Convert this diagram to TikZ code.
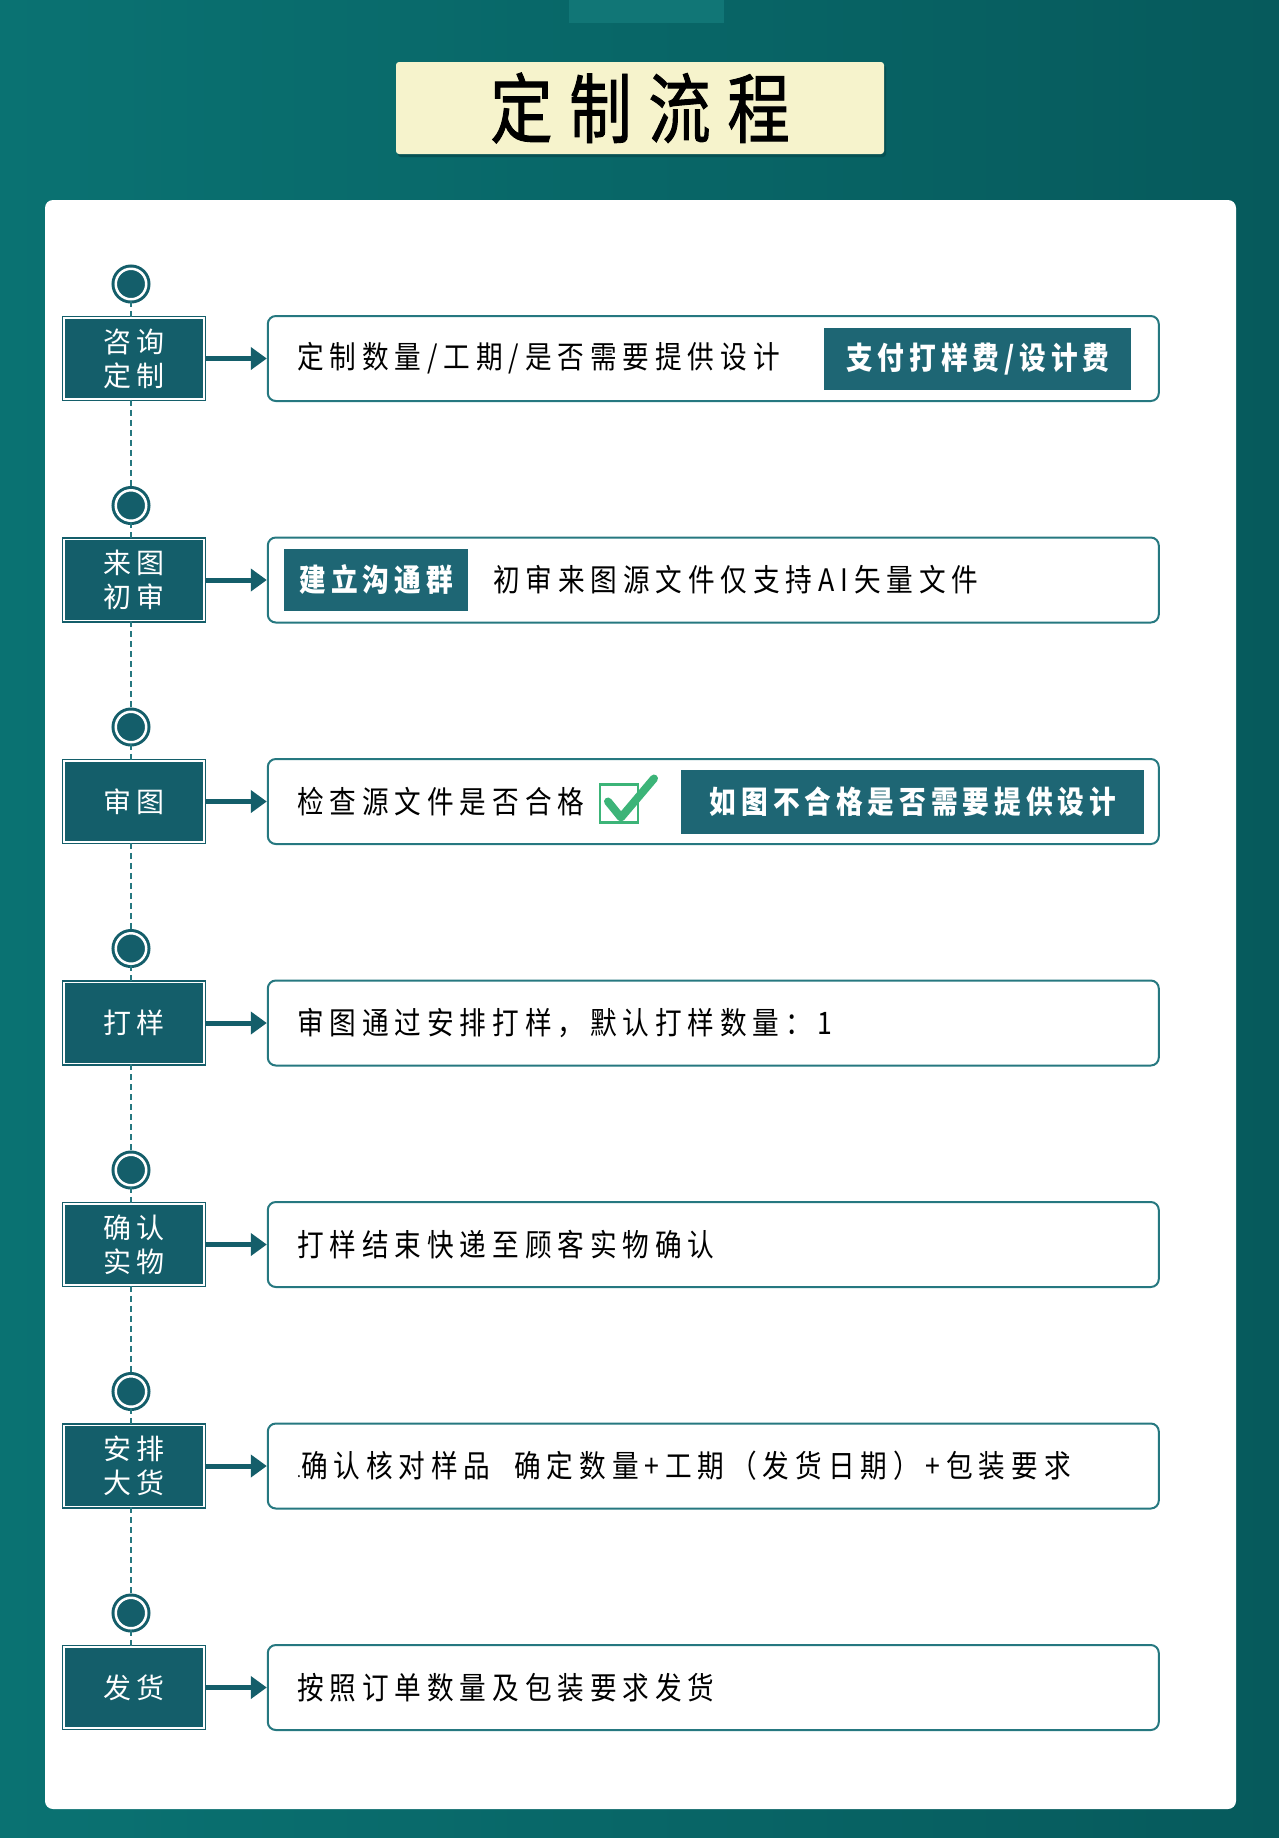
\documentclass[tikz,border=0pt]{standalone}
\usepackage{fontspec}
\setmainfont{Noto Sans CJK SC}
\newfontfamily\stepfont[FakeStretch=0.86,LetterSpace=19]{Noto Sans CJK SC}
\newfontfamily\tagfont[FakeStretch=0.86,LetterSpace=16]{Noto Sans CJK SC}
\newfontfamily\lblfont[LetterSpace=18]{Noto Sans CJK SC}
\newfontfamily\titlefont[FakeStretch=0.82,LetterSpace=22,FakeBold=1.2]{Noto Sans CJK SC}
\usepackage{xcolor}
\definecolor{bgleft}{RGB}{10,114,114}
\definecolor{bgright}{RGB}{6,90,92}
\definecolor{titlefill}{RGB}{246,243,204}
\definecolor{darkteal}{RGB}{20,94,106}
\definecolor{tagteal}{RGB}{30,102,116}
\definecolor{boxline}{RGB}{38,120,128}
\definecolor{tickgreen}{RGB}{60,180,120}
\usepackage{tikz}
\usetikzlibrary{arrows.meta,positioning,calc}

\begin{document}
\begin{tikzpicture}[
  x=0.5pt,y=-0.5pt,
  title/.style={fill=titlefill,rounded corners=1.5pt,minimum width=244pt,minimum height=46pt,
    font={\titlefont\fontsize{38}{42}\selectfont},text=black},
  lbl/.style={draw=darkteal,double=white,line width=0.8pt,double distance=0.7pt,fill=darkteal,
    minimum width=70pt,minimum height=40.5pt,align=center,text=white,
    font={\lblfont\fontsize{14}{17}\selectfont}},
  dot/.style={circle,draw=darkteal,double=white,line width=1.5pt,double distance=1.25pt,
    fill=darkteal,minimum size=15.25pt,inner sep=0pt},
  stp/.style={draw=boxline,line width=1pt,rounded corners=4pt,fill=white,
    minimum width=445.5pt,minimum height=42.5pt},
  txt/.style={inner sep=0pt,text=black,font={\stepfont\fontsize{15.5}{17}\selectfont}},
  tag/.style={fill=tagteal,text=white,minimum width=153.5pt,minimum height=31pt,inner sep=0pt,
    font={\tagfont\bfseries\fontsize{15.5}{17}\selectfont}},
  chk/.style={draw=tickgreen,line width=1.2pt,minimum size=19pt,inner sep=0pt},
  tick/.style={tickgreen,line width=4pt,line cap=round,line join=round},
  arrow/.style={-{Triangle[length=8pt,width=11pt]},line width=2.5pt,darkteal},
  link/.style={dashed,dash pattern=on 3pt off 2pt,line width=0.8pt,boxline}
]
\useasboundingbox (0,0) rectangle (1279,1838);
% background and panel
\shade[left color=bgleft,right color=bgright] (0,0) rectangle (1279,1838);
\fill[bgleft!97!white] (569,0) rectangle (724,23);
\fill[bgright!90!black,rounded corners=1.5pt] (398,65) rectangle (886,157);
\node[title] (ttl) at (640,108) {定制流程};
\fill[white,rounded corners=4pt] (45,200) rectangle (1236,1809);

% left column
\node[lbl] (q1) at (134,358.5) {咨询\\定制};
\node[lbl] (q2) at (134,580) {来图\\初审};
\node[lbl] (q3) at (134,801.5) {审图};
\node[lbl] (q4) at (134,1023) {打样};
\node[lbl] (q5) at (134,1244.5) {确认\\实物};
\node[lbl] (q6) at (134,1466) {安排\\大货};
\node[lbl] (q7) at (134,1687.5) {发货};
\node[dot] (c1) at (131,284) {};
\node[dot] (c2) at (131,505.5) {};
\node[dot] (c3) at (131,727) {};
\node[dot] (c4) at (131,948.5) {};
\node[dot] (c5) at (131,1170) {};
\node[dot] (c6) at (131,1391.5) {};
\node[dot] (c7) at (131,1613) {};
\draw[link] (c1.south) -- (c1.south |- q1.north);
\draw[link] (q1.south -| c1) -- (c2.north);
\draw[link] (c2.south) -- (c2.south |- q2.north);
\draw[link] (q2.south -| c2) -- (c3.north);
\draw[link] (c3.south) -- (c3.south |- q3.north);
\draw[link] (q3.south -| c3) -- (c4.north);
\draw[link] (c4.south) -- (c4.south |- q4.north);
\draw[link] (q4.south -| c4) -- (c5.north);
\draw[link] (c5.south) -- (c5.south |- q5.north);
\draw[link] (q5.south -| c5) -- (c6.north);
\draw[link] (c6.south) -- (c6.south |- q6.north);
\draw[link] (q6.south -| c6) -- (c7.north);
\draw[link] (c7.south) -- (c7.south |- q7.north);

% right boxes
\node[stp,right=31pt of q1] (s1) {};
\node[stp,right=31pt of q2] (s2) {};
\node[stp,right=31pt of q3] (s3) {};
\node[stp,right=31pt of q4] (s4) {};
\node[stp,right=31pt of q5] (s5) {};
\node[stp,right=31pt of q6] (s6) {};
\node[stp,right=31pt of q7] (s7) {};
\draw[arrow] (q1) -- (s1);
\draw[arrow] (q2) -- (s2);
\draw[arrow] (q3) -- (s3);
\draw[arrow] (q4) -- (s4);
\draw[arrow] (q5) -- (s5);
\draw[arrow] (q6) -- (s6);
\draw[arrow] (q7) -- (s7);

% contents
\node[txt,right=15pt of s1.west] (t1) {定制数量/工期/是否需要提供设计};
\node[tag,left=14pt of s1.east] (g1) {支付打样费/设计费};
\node[tag,right=8.5pt of s2.west,minimum width=92pt] (g2) {建立沟通群};
\node[txt,right=12pt of g2] (t2) {初审来图源文件仅支持AI矢量文件};
\node[txt,right=15pt of s3.west] (t3) {检查源文件是否合格};
\node[chk] (k3) at (619,803.5) {};
\draw[tick] ([shift={(-11,-2)}]k3.center) -- ([shift={(2,14)}]k3.center) -- ([shift={(35,-25)}]k3.center);
\node[tag,left=7.5pt of s3.east,minimum width=231.5pt,minimum height=32pt] (g3) {如图不合格是否需要提供设计};
\node[txt,right=15pt of s4.west] (t4) {审图通过安排打样，默认打样数量：1};
\node[txt,right=15pt of s5.west] (t5) {打样结束快递至顾客实物确认};
\node[txt,right=15pt of s6.west] (t6) {{\fontsize{8}{9}\selectfont.}确认核对样品\hspace{12pt}确定数量+工期（发货日期）+包装要求};
\node[txt,right=15pt of s7.west] (t7) {按照订单数量及包装要求发货};
\end{tikzpicture}
\end{document}
